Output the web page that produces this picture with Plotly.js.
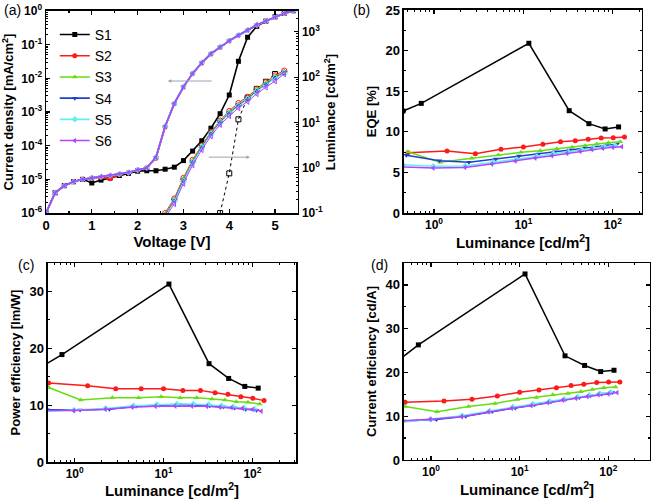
<!DOCTYPE html>
<html><head><meta charset="utf-8">
<script src="https://cdn.plot.ly/plotly-3.0.1.min.js"></script>
<style>html,body{margin:0;padding:0;background:#fff}#chart{width:660px;height:499px}</style>
</head><body><div id="chart"></div>
<script>
// ---------- data ----------
const seriesNames = ["S1","S2","S3","S4","S5","S6"];
const colors = ["#000000","#ff1a1a","#66dd11","#1f3fd0","#5ff0f0","#b044ff"];
const symbols = ["square","circle","triangle-up","triangle-down","diamond","triangle-left"];

// tick labels
const jTickVals = [1e-6,1e-5,1e-4,1e-3,1e-2,1e-1,1];
const jTickText = ["10<sup>-6</sup>","10<sup>-5</sup>","10<sup>-4</sup>","10<sup>-3</sup>","10<sup>-2</sup>","10<sup>-1</sup>","10<sup>0</sup>"];
const lTickVals = [0.1,1,10,100,1000];
const lTickText = ["10<sup>-1</sup>","10<sup>0</sup>","10<sup>1</sup>","10<sup>2</sup>","10<sup>3</sup>"];
const effTickVals = [1,10,100];
const effTickText = ["10<sup>0</sup>","10<sup>1</sup>","10<sup>2</sup>"];

// (a) J-V
const voltage = [0,0.2,0.4,0.6,0.8,1.0,1.2,1.4,1.6,1.8,2.0,2.2,2.4,2.6,2.8,3.0,3.2,3.4,3.6,3.8,4.0,4.2,4.4,4.6,4.8,5.0,5.2,5.4];
const jS1 = [1e-6,4e-6,6.5e-6,8.5e-6,1.0e-5,7.8e-6,9.5e-6,1.1e-5,1.3e-5,1.5e-5,1.75e-5,1.8e-5,1.8e-5,2.0e-5,2.3e-5,3.6e-5,6.9e-5,1.4e-4,3.3e-4,8.9e-4,3.2e-3,3.2e-2,1.66e-1,3.5e-1,5.0e-1,0.67,0.86,1.02];
const jS2 = [1e-6,4e-6,6.5e-6,8.5e-6,1.0e-5,1.1e-5,1.15e-5,1.05e-5,1.4e-5,1.6e-5,1.9e-5,2.2e-5,4.2e-5,3.6e-4,1.75e-3,5.5e-3,1.38e-2,2.85e-2,5.3e-2,8.4e-2,0.13,0.19,0.27,0.38,0.5,0.66,0.85,1.0];
const jS3 = [1e-6,4e-6,6.4e-6,8.6e-6,1.0e-5,1.1e-5,1.2e-5,1.3e-5,1.4e-5,1.6e-5,1.9e-5,2.2e-5,4.4e-5,3.7e-4,1.8e-3,5.6e-3,1.4e-2,2.9e-2,5.4e-2,8.5e-2,0.13,0.19,0.27,0.38,0.5,0.66,0.85,1.0];
const jS4 = [1e-6,4e-6,6.5e-6,8.5e-6,1.0e-5,1.1e-5,1.2e-5,1.3e-5,1.45e-5,1.6e-5,1.9e-5,2.2e-5,4.5e-5,3.7e-4,1.8e-3,5.6e-3,1.4e-2,2.9e-2,5.4e-2,8.5e-2,0.13,0.19,0.27,0.38,0.5,0.66,0.85,1.0];
const jS5 = [1e-6,4e-6,6.5e-6,8.4e-6,1.0e-5,1.12e-5,1.2e-5,1.3e-5,1.45e-5,1.6e-5,1.9e-5,2.2e-5,4.5e-5,3.8e-4,1.8e-3,5.6e-3,1.4e-2,2.9e-2,5.4e-2,8.5e-2,0.13,0.19,0.27,0.39,0.5,0.66,0.85,1.0];
const jS6 = [1e-6,4e-6,6.5e-6,8.5e-6,1.0e-5,1.1e-5,1.2e-5,1.3e-5,1.45e-5,1.6e-5,1.9e-5,2.2e-5,4.6e-5,3.8e-4,1.8e-3,5.6e-3,1.4e-2,2.9e-2,5.4e-2,8.5e-2,0.13,0.19,0.27,0.39,0.5,0.66,0.85,1.0];

// (a) luminance vs voltage
const vLumS1 = [3.8,4.0,4.2,4.4,4.6,4.8,5.0];
const lumS1  = [0.1,0.75,11.7,35,55,79,117];
const vLum   = [2.6,2.8,3.0,3.2,3.4,3.6,3.8,4.0,4.2,4.4,4.6,4.8,5.0,5.2];
const lumS2  = [0.1,0.21,0.6,1.5,3.1,6.2,11,18,27,37,55,78,110,140];
const lumS3  = [0.092,0.2,0.57,1.42,3.0,6.0,10.6,17,25,35,53,74,104,133];
const lumS4  = [0.088,0.19,0.53,1.33,2.85,5.7,10.1,16,24,33,50,70,98,126];
const lumS5  = [0.085,0.18,0.5,1.3,2.75,5.5,9.8,15.5,23,32,48,68,95,121];
const lumS6  = [0.08,0.16,0.45,1.15,2.5,5.0,9.0,14,21,29,43,60,82,118];

// (b)-(d) efficiencies vs luminance
const LS1 = [0.45,0.72,11.5,32.5,54,82,116];
const LS2 = [0.51,1.4,2.9,5.6,10,16.5,26,38,53,74,101,135];
const LS3 = [0.51,1.17,2.65,5.25,9.4,15.4,23.6,35,49,66,89,121];
const LS4 = [0.49,1.15,2.46,4.9,8.9,14.7,22.6,33,47,63,84,111];
const LS5 = [0.45,0.98,2.22,4.6,8.4,14.1,21.7,32,45,61,80,106];
const LS6 = [0.45,0.98,2.22,4.43,8.1,13.5,20.8,30.6,43,58,77,100,126];

const eqeS1 = [12.55,13.5,20.9,12.6,11.0,10.35,10.6];
const eqeS2 = [7.43,7.63,7.3,7.84,8.13,8.46,8.78,8.9,9.07,9.24,9.28,9.35];
const eqeS3 = [7.55,6.24,6.73,7.14,7.47,7.67,7.92,8.09,8.29,8.5,8.66,8.78];
const eqeS4 = [7.1,6.44,6.24,6.65,7.02,7.27,7.55,7.76,7.96,8.13,8.29,8.46];
const eqeS5 = [5.95,5.75,5.8,6.25,6.6,6.95,7.3,7.5,7.78,7.98,8.17,8.3];
const eqeS6 = [5.66,5.54,5.62,6.03,6.4,6.77,7.06,7.35,7.6,7.84,7.96,8.09,8.17];

const peS1 = [17.0,18.9,31.3,17.3,14.7,13.3,13.0];
const peS2 = [13.9,13.4,12.9,12.9,12.9,12.6,12.6,12.2,11.9,11.5,11.2,10.8];
const peS3 = [13.1,10.9,11.3,11.3,11.5,11.3,11.3,11.1,10.9,10.6,10.5,10.2];
const peS4 = [9.2,9.15,9.3,9.8,10.0,10.1,10.0,9.9,9.7,9.5,9.3,9.1];
const peS5 = [8.9,9.1,9.4,9.9,10.1,10.2,10.2,10.1,9.9,9.7,9.5,9.3];
const peS6 = [9.05,9.05,9.3,9.65,9.8,9.85,9.85,9.8,9.65,9.55,9.45,9.25,8.95];

const ceS1 = [23.1,26.3,42.5,23.8,21.6,20.2,20.5];
const ceS2 = [13.2,13.5,13.9,14.6,15.5,16.0,16.5,17.0,17.3,17.7,17.8,17.8];
const ceS3 = [12.2,11.0,12.2,12.9,13.8,14.3,14.9,15.2,15.6,16.1,16.5,16.7];
const ceS4 = [8.9,9.25,10.0,11.1,11.9,12.6,13.3,13.8,14.3,14.7,15.1,15.4];
const ceS5 = [8.6,9.3,10.1,11.2,12.1,12.8,13.4,13.9,14.4,14.8,15.2,15.5];
const ceS6 = [8.9,9.3,9.9,11.0,11.8,12.4,13.1,13.7,14.1,14.5,14.9,15.1,15.4];

// ---------- traces ----------
const jData = [jS1,jS2,jS3,jS4,jS5,jS6];
const lumX = [vLumS1,vLum,vLum,vLum,vLum,vLum];
const lumY = [lumS1,lumS2,lumS3,lumS4,lumS5,lumS6];
const Ls = [LS1,LS2,LS3,LS4,LS5,LS6];
const eqe = [eqeS1,eqeS2,eqeS3,eqeS4,eqeS5,eqeS6];
const pe = [peS1,peS2,peS3,peS4,peS5,peS6];
const ce = [ceS1,ceS2,ceS3,ceS4,ceS5,ceS6];

const traces = [];
for (let i=0;i<6;i++){
  traces.push({x:lumX[i], y:lumY[i], xaxis:'x', yaxis:'y2', type:'scatter', mode:'lines+markers',
    showlegend:false, line:{color:colors[i], width:1, dash: i===0?'dot':'solid'},
    marker:{symbol:symbols[i]+'-open', size:5, color:colors[i], line:{width:1, color:colors[i]}}});
}
for (let i=0;i<6;i++){
  traces.push({x:voltage, y:jData[i], xaxis:'x', yaxis:'y', type:'scatter', mode:'lines+markers',
    name:seriesNames[i], line:{color:colors[i], width:1.6},
    marker:{symbol:symbols[i], size:5, color:colors[i]}});
}
const effSets = [[eqe,'x2','y3'],[pe,'x3','y4'],[ce,'x4','y5']];
for (const [vals,xa,ya] of effSets){
  for (let i=0;i<6;i++){
    traces.push({x:Ls[i], y:vals[i], xaxis:xa, yaxis:ya, type:'scatter', mode:'lines+markers',
      showlegend:false, line:{color:colors[i], width:1.5},
      marker:{symbol:symbols[i], size:5, color:colors[i]}});
  }
}

// ---------- layout ----------
const FONT = 'Liberation Sans, Arial, sans-serif';
const tickFont = {family:FONT, size:13, color:'#000', weight:'bold'};
const logTickFont = {family:FONT, size:12, color:'#000', weight:'bold'};
const xTitleFont = {family:FONT, size:15, color:'#000', weight:'bold'};
const yTitleFont = {family:FONT, size:13, color:'#000', weight:'bold'};
const logMinor = {ticks:'inside', ticklen:2, tickwidth:1, tickcolor:'#000', showgrid:false, dtick:'D1'};
function ax(extra){
  return Object.assign({showgrid:false, zeroline:false, showline:true, linecolor:'#000', linewidth:1.5,
    ticks:'inside', ticklen:4, tickwidth:1.2, tickcolor:'#000', tickfont:tickFont}, extra);
}
function logx(extra){
  return ax(Object.assign({type:'log', tickmode:'array', tickvals:effTickVals, ticktext:effTickText,
    tickfont:logTickFont, mirror:'ticks', minor:logMinor}, extra));
}
const lumTitle = 'Luminance [cd/m<sup>2</sup>]';

const layout = {
  width:660, height:499, margin:{l:0,r:0,t:0,b:0},
  paper_bgcolor:'#fff', plot_bgcolor:'#fff', font:{family:FONT, color:'#000'},
  showlegend:true,
  legend:{x:0.083, y:0.962, xanchor:'left', yanchor:'top', bgcolor:'rgba(0,0,0,0)',
    font:{family:FONT, size:14, color:'#000'}, tracegroupgap:0, itemwidth:30},
  xaxis: ax({domain:[0.0697,0.4515], anchor:'y', range:[0,5.5], dtick:1, tick0:0, mirror:'ticks',
    minor:{ticks:'inside', ticklen:2, dtick:0.5, tickcolor:'#000', showgrid:false},
    title:{text:'Voltage [V]', font:xTitleFont, standoff:4}}),
  yaxis: ax({domain:[0.5731,0.978], anchor:'x', type:'log', range:[-6,0], tickmode:'array',
    tickvals:jTickVals, ticktext:jTickText, tickfont:logTickFont, minor:logMinor,
    title:{text:'Current density [mA/cm<sup>2</sup>]', font:yTitleFont, standoff:4}}),
  yaxis2: ax({domain:[0.5731,0.978], anchor:'x', overlaying:'y', side:'right', type:'log', range:[-1,3.46],
    tickmode:'array', tickvals:lTickVals, ticktext:lTickText, tickfont:logTickFont, minor:logMinor,
    title:{text:lumTitle, font:yTitleFont, standoff:4}}),
  xaxis2: logx({domain:[0.6121,0.9727], anchor:'y3', range:[-0.336,2.326], title:{text:lumTitle, font:xTitleFont, standoff:4}}),
  yaxis3: ax({domain:[0.5731,0.98], anchor:'x2', range:[0,25], dtick:5, mirror:'ticks',
    minor:{ticks:'inside', ticklen:2, dtick:2.5, tickcolor:'#000', showgrid:false},
    title:{text:'EQE [%]', font:yTitleFont, standoff:6}}),
  xaxis3: logx({domain:[0.0727,0.4485], anchor:'y4', range:[-0.30,2.49], title:{text:lumTitle, font:xTitleFont, standoff:4}}),
  yaxis4: ax({domain:[0.0741,0.4729], anchor:'x3', range:[0,35], dtick:10, mirror:'ticks',
    minor:{ticks:'inside', ticklen:2, dtick:5, tickcolor:'#000', showgrid:false},
    title:{text:'Power efficiency [lm/W]', font:yTitleFont, standoff:6}}),
  xaxis4: logx({domain:[0.6121,0.9848], anchor:'y5', range:[-0.305,2.47], title:{text:lumTitle, font:xTitleFont, standoff:4}}),
  yaxis5: ax({domain:[0.0782,0.4729], anchor:'x4', range:[0,45], dtick:10, mirror:'ticks',
    minor:{ticks:'inside', ticklen:2, dtick:5, tickcolor:'#000', showgrid:false},
    title:{text:'Current efficiency [cd/A]', font:yTitleFont, standoff:6}}),
  annotations:[
    {text:'(a)', xref:'paper', yref:'paper', x:2/660, y:1-10/499, xanchor:'left', yanchor:'middle', showarrow:false, font:{family:FONT,size:14,color:'#000'}},
    {text:'(b)', xref:'paper', yref:'paper', x:351/660, y:1-10/499, xanchor:'left', yanchor:'middle', showarrow:false, font:{family:FONT,size:14,color:'#000'}},
    {text:'(c)', xref:'paper', yref:'paper', x:16/660, y:1-265/499, xanchor:'left', yanchor:'middle', showarrow:false, font:{family:FONT,size:14,color:'#000'}},
    {text:'(d)', xref:'paper', yref:'paper', x:369/660, y:1-265/499, xanchor:'left', yanchor:'middle', showarrow:false, font:{family:FONT,size:14,color:'#000'}},
    {x:2.66, y:-2.08, xref:'x', yref:'y', ax:3.65, ay:-2.08, axref:'x', ayref:'y', text:'', showarrow:true,
      arrowhead:2, arrowsize:0.7, arrowwidth:1, arrowcolor:'#a0a0b4'},
    {x:4.45, y:-4.34, xref:'x', yref:'y', ax:3.52, ay:-4.34, axref:'x', ayref:'y', text:'', showarrow:true,
      arrowhead:2, arrowsize:0.7, arrowwidth:1, arrowcolor:'#a0a0b4'}
  ]
};

Plotly.newPlot('chart', traces, layout, {staticPlot:true, displayModeBar:false});
</script></body></html>
